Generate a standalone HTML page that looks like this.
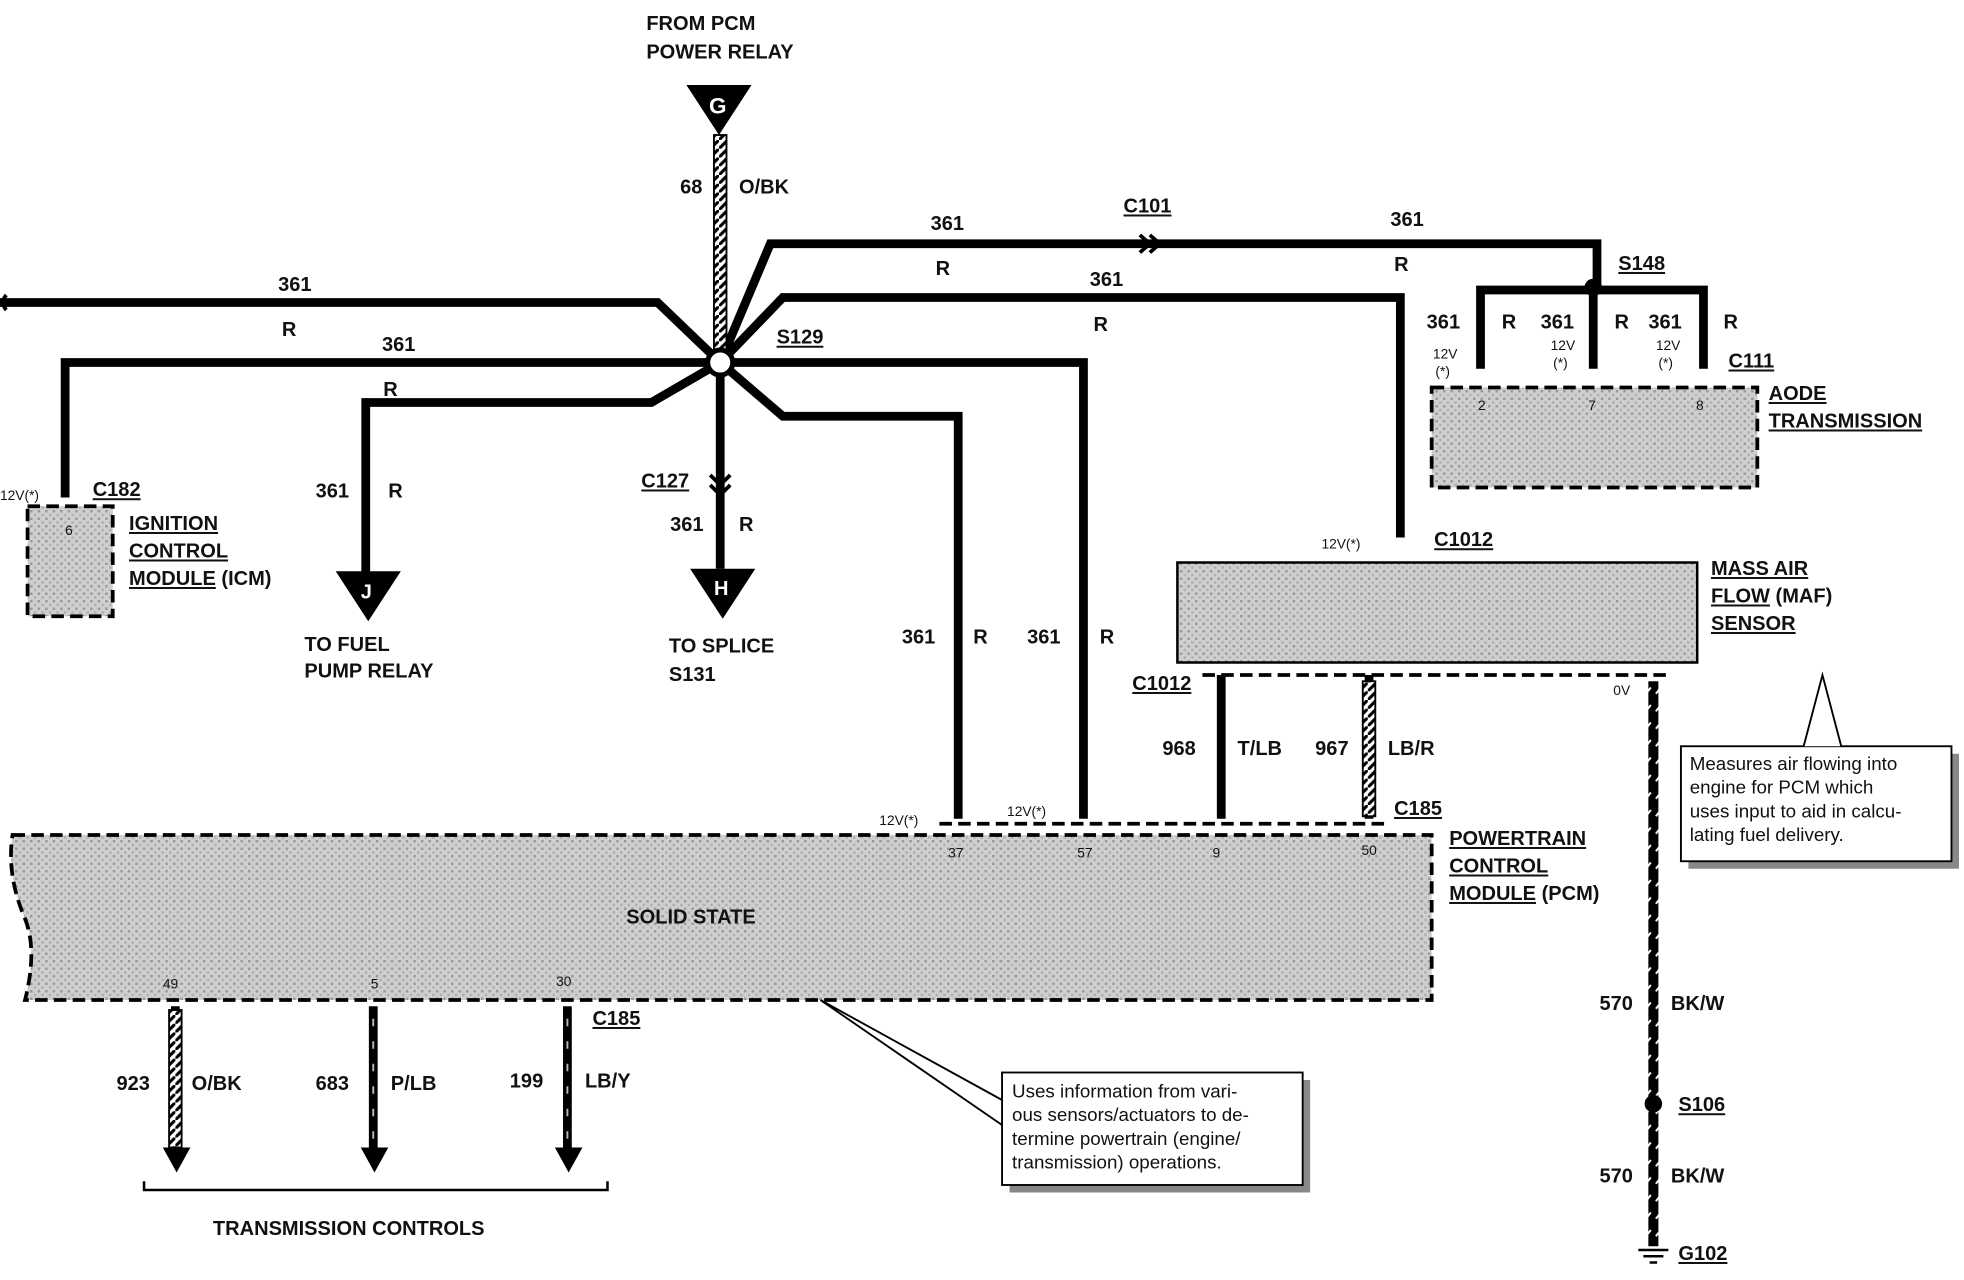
<!DOCTYPE html>
<html><head><meta charset="utf-8"><style>
html,body{margin:0;padding:0;background:#fff;}
svg{display:block;}
text{font-family:"Liberation Sans",sans-serif;font-weight:bold;fill:#111;}
.l{font-size:16px;}
.s{font-size:11px;font-weight:normal;}
.c{font-size:15px;font-weight:normal;}
.u{text-decoration:underline;}
</style></head><body>
<svg width="1964" height="1280" viewBox="0 0 1568 1024" preserveAspectRatio="none" xmlns="http://www.w3.org/2000/svg">
<defs>
<pattern id="gr" width="6" height="6" patternUnits="userSpaceOnUse">
<rect width="6" height="6" fill="#cfcfcf"/><rect width="2" height="2" fill="#9a9a9a"/><rect x="3" y="3" width="2" height="2" fill="#b0b0b0"/>
</pattern>
<pattern id="st" width="7" height="7" patternUnits="userSpaceOnUse">
<rect width="7" height="7" fill="#fff"/><path d="M-1 8 L8 -1" stroke="#000" stroke-width="2.5"/>
</pattern>
<pattern id="bw" width="8" height="14" patternUnits="userSpaceOnUse">
<rect width="8" height="14" fill="#000"/><path d="M2 9 L6 4" stroke="#fff" stroke-width="1.5"/>
</pattern>
</defs>
<g fill="none" stroke="#000" stroke-width="7" stroke-linejoin="miter">
<path d="M0 242 H525 L575 290"/>
<path d="M52 398 V290 H575"/>
<path d="M575 290 L520 322 H292 V460"/>
<path d="M575 290 V455"/>
<path d="M575 290 L615 195 H1275 V232"/>
<path d="M575 290 L625 238 H1118 V430"/>
<path d="M575 290 H865 V655"/>
<path d="M575 290 L625 333 H765 V655"/>
<path d="M1182 295 V232 H1360 V295"/>
<path d="M1272 232 V295"/>
<path d="M975 540 V655"/>
<path d="M1093 540 V655"/>
<path d="M140 805 V920"/>
<path d="M298 805 V920"/>
<path d="M453 805 V920"/>
</g>
<rect x="570" y="108" width="10" height="178" fill="url(#st)" stroke="#000" stroke-width="1.5"/>
<rect x="1088" y="545" width="10" height="108" fill="url(#st)" stroke="#000" stroke-width="1.5"/>
<rect x="135" y="808" width="10" height="110" fill="url(#st)" stroke="#000" stroke-width="1.5"/>
<rect x="1316" y="545" width="8" height="452" fill="url(#bw)"/>
<path d="M298 815 V915" stroke="#bbb" stroke-width="1.5" stroke-dasharray="6,12"/>
<path d="M453 815 V915" stroke="#bbb" stroke-width="1.5" stroke-dasharray="6,12"/>
<g fill="#000">
<polygon points="548,68 600,68 574,108"/>
<polygon points="268,457 320,457 294,497"/>
<polygon points="551,455 603,455 577,495"/>
<polygon points="130,918 152,918 141,938"/>
<polygon points="288,918 310,918 299,938"/>
<polygon points="443,918 465,918 454,938"/>
</g>
<text x="566" y="91" style="font-size:18px;fill:#fff">G</text>
<text x="288" y="479" style="font-size:16px;fill:#fff">J</text>
<text x="570" y="476" style="font-size:16px;fill:#fff">H</text>
<circle cx="575" cy="290" r="10" fill="#fff" stroke="#000" stroke-width="4"/>
<circle cx="1272" cy="230" r="7" fill="#000"/>
<circle cx="1320" cy="883" r="7" fill="#000"/>
<path d="M1308 1000 H1332 M1312 1005 H1328 M1317 1010 H1323" stroke="#000" stroke-width="2"/>
<path d="M5 236 Q0 242 5 248" stroke="#000" stroke-width="3" fill="none"/>
<path d="M910 188 L918 195 L910 202 M918 188 L926 195 L918 202" stroke="#000" stroke-width="3" fill="none"/>
<path d="M567 380 L575 388 L583 380 M567 388 L575 396 L583 388" stroke="#000" stroke-width="3" fill="none"/>
<rect x="22" y="405" width="68" height="88" fill="url(#gr)" stroke="#000" stroke-width="3" stroke-dasharray="10,5"/>
<rect x="1143" y="310" width="260" height="80" fill="url(#gr)" stroke="#000" stroke-width="3" stroke-dasharray="10,5"/>
<rect x="940" y="450" width="415" height="80" fill="url(#gr)" stroke="#000" stroke-width="2"/>
<path d="M960 540 H1335" stroke="#000" stroke-width="3" stroke-dasharray="10,5"/>
<path d="M750 659 H1105" stroke="#000" stroke-width="3" stroke-dasharray="10,5"/>
<path d="M10 668 H1143 V800 H20 Q30 760 20 735 Q5 700 10 668 Z" fill="url(#gr)" stroke="#000" stroke-width="3" stroke-dasharray="10,5"/>
<path d="M115 945 V952 H485 V945" stroke="#000" stroke-width="2" fill="none"/>
<rect x="1348" y="603" width="216" height="92" fill="#888"/>
<rect x="1342" y="597" width="216" height="92" fill="#fff" stroke="#000" stroke-width="1.5"/>
<path d="M1440 597 L1455 540 L1470 597" fill="#fff" stroke="#000" stroke-width="1.5"/>
<rect x="806" y="864" width="240" height="90" fill="#888"/>
<rect x="800" y="858" width="240" height="90" fill="#fff" stroke="#000" stroke-width="1.5"/>
<path d="M800 880 L655 800 L800 900" fill="none" stroke="#000" stroke-width="1.5"/>
<text x="516" y="24" class="l">FROM PCM</text>
<text x="516" y="47" class="l">POWER RELAY</text>
<text x="543" y="155" class="l">68</text><text x="590" y="155" class="l">O/BK</text>
<text x="222" y="233" class="l">361</text><text x="225" y="269" class="l">R</text>
<text x="305" y="281" class="l">361</text><text x="306" y="317" class="l">R</text>
<text x="743" y="184" class="l">361</text><text x="747" y="220" class="l">R</text>
<text x="897" y="170" class="l u">C101</text>
<text x="1110" y="181" class="l">361</text><text x="1113" y="217" class="l">R</text>
<text x="870" y="229" class="l">361</text><text x="873" y="265" class="l">R</text>
<text x="620" y="275" class="l u">S129</text>
<text x="1292" y="216" class="l u">S148</text>
<text x="1139" y="263" class="l">361</text><text x="1199" y="263" class="l">R</text>
<text x="1230" y="263" class="l">361</text><text x="1289" y="263" class="l">R</text>
<text x="1316" y="263" class="l">361</text><text x="1376" y="263" class="l">R</text>
<text x="1144" y="287" class="s">12V</text><text x="1146" y="301" class="s">(*)</text>
<text x="1238" y="280" class="s">12V</text><text x="1240" y="294" class="s">(*)</text>
<text x="1322" y="280" class="s">12V</text><text x="1324" y="294" class="s">(*)</text>
<text x="1380" y="294" class="l u">C111</text>
<text x="1180" y="328" class="s">2</text><text x="1268" y="328" class="s">7</text><text x="1354" y="328" class="s">8</text>
<text x="1412" y="320" class="l u">AODE</text>
<text x="1412" y="342" class="l u">TRANSMISSION</text>
<text x="0" y="400" class="s">12V(*)</text>
<text x="74" y="397" class="l u">C182</text>
<text x="52" y="428" class="s">6</text>
<text x="103" y="424" class="l u">IGNITION</text>
<text x="103" y="446" class="l u">CONTROL</text>
<text x="103" y="468" class="l"><tspan class="u">MODULE</tspan> (ICM)</text>
<text x="252" y="398" class="l">361</text><text x="310" y="398" class="l">R</text>
<text x="243" y="521" class="l">TO FUEL</text>
<text x="243" y="542" class="l">PUMP RELAY</text>
<text x="512" y="390" class="l u">C127</text>
<text x="535" y="425" class="l">361</text><text x="590" y="425" class="l">R</text>
<text x="534" y="522" class="l">TO SPLICE</text>
<text x="534" y="545" class="l">S131</text>
<text x="1055" y="439" class="s">12V(*)</text>
<text x="1145" y="437" class="l u">C1012</text>
<text x="1366" y="460" class="l u">MASS AIR</text>
<text x="1366" y="482" class="l"><tspan class="u">FLOW</tspan> (MAF)</text>
<text x="1366" y="504" class="l u">SENSOR</text>
<text x="904" y="552" class="l u">C1012</text>
<text x="1288" y="556" class="s">0V</text>
<text x="720" y="515" class="l">361</text><text x="777" y="515" class="l">R</text>
<text x="820" y="515" class="l">361</text><text x="878" y="515" class="l">R</text>
<text x="928" y="604" class="l">968</text><text x="988" y="604" class="l">T/LB</text>
<text x="1050" y="604" class="l">967</text><text x="1108" y="604" class="l">LB/R</text>
<text x="1113" y="652" class="l u">C185</text>
<text x="702" y="660" class="s">12V(*)</text><text x="804" y="653" class="s">12V(*)</text>
<text x="757" y="686" class="s">37</text><text x="860" y="686" class="s">57</text>
<text x="968" y="686" class="s">9</text><text x="1087" y="684" class="s">50</text>
<text x="1157" y="676" class="l u">POWERTRAIN</text>
<text x="1157" y="698" class="l u">CONTROL</text>
<text x="1157" y="720" class="l"><tspan class="u">MODULE</tspan> (PCM)</text>
<text x="500" y="739" class="l">SOLID STATE</text>
<text x="130" y="791" class="s">49</text><text x="296" y="791" class="s">5</text><text x="444" y="789" class="s">30</text>
<text x="473" y="820" class="l u">C185</text>
<text x="93" y="872" class="l">923</text><text x="153" y="872" class="l">O/BK</text>
<text x="252" y="872" class="l">683</text><text x="312" y="872" class="l">P/LB</text>
<text x="407" y="870" class="l">199</text><text x="467" y="870" class="l">LB/Y</text>
<text x="170" y="988" class="l">TRANSMISSION CONTROLS</text>
<text x="1277" y="808" class="l">570</text><text x="1334" y="808" class="l">BK/W</text>
<text x="1340" y="889" class="l u">S106</text>
<text x="1277" y="946" class="l">570</text><text x="1334" y="946" class="l">BK/W</text>
<text x="1340" y="1008" class="l u">G102</text>
<text x="1349" y="616" class="c">Measures air flowing into</text>
<text x="1349" y="635" class="c">engine for PCM which</text>
<text x="1349" y="654" class="c">uses input to aid in calcu-</text>
<text x="1349" y="673" class="c">lating fuel delivery.</text>
<text x="808" y="878" class="c">Uses information from vari-</text>
<text x="808" y="897" class="c">ous sensors/actuators to de-</text>
<text x="808" y="916" class="c">termine powertrain (engine/</text>
<text x="808" y="935" class="c">transmission) operations.</text>
</svg>
</body></html>
